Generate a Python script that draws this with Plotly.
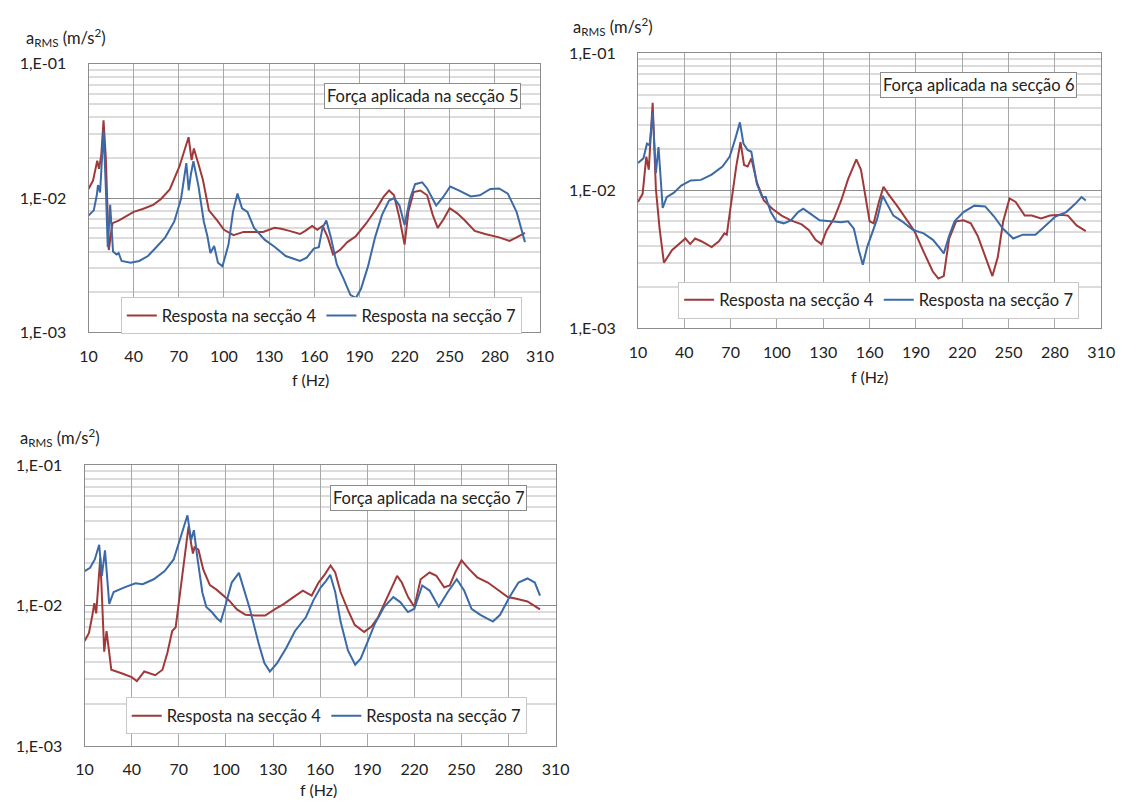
import plotly.graph_objects as go

# --- chart 1: força aplicada na secção 5 ---
f1_s4 = [10, 13, 15.8, 17, 18.5, 20, 21.5, 23.5, 25, 26, 30, 35, 40, 46, 53, 58, 64, 70.4, 73, 76.5,
         78.5, 80, 83, 86, 90, 95.6, 100, 106.4, 113, 119.5, 126, 133.6, 138, 143.5, 150.5, 154, 158.6,
         162, 165.5, 169, 172.5, 177, 182, 187.6, 194.6, 201.5, 206, 209.7, 213, 216.6, 220, 222.5,
         226, 230.5, 235, 238.7, 242, 245.7, 250, 255, 259.6, 266.6, 273.5, 282.8, 289.8, 294.4, 300]
a1_s4 = [0.0117, 0.0135, 0.019, 0.0165, 0.021, 0.038, 0.020, 0.0041, 0.0055, 0.0065, 0.0068, 0.0073,
         0.0079, 0.0083, 0.0089, 0.0098, 0.0116, 0.0172, 0.0215, 0.0284, 0.0192, 0.0234, 0.018, 0.0137,
         0.0081, 0.0068, 0.0058, 0.0053, 0.0056, 0.0056, 0.0056, 0.0060, 0.0059, 0.0057, 0.0054, 0.0057,
         0.0062, 0.0058, 0.0062, 0.0051, 0.0038, 0.0041, 0.0047, 0.0052, 0.0065, 0.0084, 0.0102, 0.0114,
         0.0105, 0.0071, 0.0045, 0.0079, 0.0111, 0.0114, 0.0105, 0.0075, 0.0060, 0.0069, 0.0084, 0.0077,
         0.0069, 0.0057, 0.0054, 0.0051, 0.0048, 0.0051, 0.0055]
f1_s7 = [10, 13.5, 15.5, 16.3, 17.7, 20, 21.5, 22.8, 24.4, 26.3, 28.6, 30, 32, 38, 43.7, 49.5, 55, 61,
         67, 71.5, 75, 76.6, 78, 79.7, 83, 86.6, 89, 91, 93.5, 96, 99, 103, 106, 109, 112, 115.6, 120,
         127, 134, 141, 150.5, 155, 159.7, 163, 165.5, 168, 171, 175, 179.5, 184, 187.6, 191, 195.7,
         200.4, 205, 209.7, 213, 216.6, 220, 223.6, 227, 231.7, 235, 241, 245.7, 250.3, 256, 264, 270,
         277, 282.8, 288.6, 294.4, 300]
a1_s7 = [0.0074, 0.0081, 0.0105, 0.0125, 0.011, 0.0319, 0.012, 0.0043, 0.0089, 0.0040, 0.0038, 0.0039,
         0.0034, 0.0033, 0.0034, 0.0037, 0.0043, 0.0051, 0.0067, 0.0099, 0.0182, 0.0114, 0.0150, 0.0188,
         0.0124, 0.0067, 0.0052, 0.0039, 0.0044, 0.0033, 0.0031, 0.0045, 0.0079, 0.0108, 0.0084, 0.0079,
         0.0060, 0.0049, 0.0043, 0.0037, 0.0034, 0.0036, 0.0042, 0.0043, 0.0060, 0.0068, 0.0051, 0.0032,
         0.0025, 0.0019, 0.0018, 0.0021, 0.0031, 0.0051, 0.0075, 0.0096, 0.0100, 0.0088, 0.0063, 0.0099,
         0.0127, 0.0131, 0.0118, 0.0088, 0.0102, 0.0122, 0.0114, 0.0103, 0.0105, 0.0117, 0.0118, 0.0108,
         0.0079, 0.0047]

# --- chart 2: força aplicada na secção 6 ---
f2_s4 = [10, 13, 15.4, 17, 19.5, 21.6, 24, 26.8, 32, 38, 40.7, 43.8, 47, 51, 57.7, 62.4, 66, 67.5, 70.6,
         73.6, 76.4, 78.7, 81, 83.4, 87, 91.5, 97, 103, 109, 116, 120.6, 125, 128.8, 132, 137, 141.6,
         146, 151.4, 154.4, 158, 160, 162.6, 166, 169, 172, 177.7, 183.5, 189, 195, 200.8, 204.5, 208,
         211.5, 216, 220.8, 225.5, 230, 234.8, 239.5, 243, 246.5, 250.6, 254.6, 260.4, 265, 271, 276.8,
         283.7, 288.4, 294, 300]
a2_s4 = [0.0083, 0.0095, 0.0177, 0.0142, 0.0435, 0.0103, 0.0053, 0.0030, 0.0037, 0.0042, 0.0045, 0.0041,
         0.0045, 0.0043, 0.0039, 0.0043, 0.0049, 0.0048, 0.0087, 0.0150, 0.0226, 0.0154, 0.0150, 0.0172,
         0.0115, 0.0085, 0.0074, 0.0066, 0.0061, 0.0057, 0.0052, 0.0044, 0.0041, 0.0051, 0.0063, 0.0085,
         0.0121, 0.0169, 0.0142, 0.0083, 0.0060, 0.0058, 0.0083, 0.0107, 0.0095, 0.0078, 0.0063, 0.0051,
         0.0036, 0.0026, 0.0023, 0.0024, 0.0045, 0.0060, 0.0061, 0.0058, 0.0047, 0.0033, 0.0024, 0.0033,
         0.0060, 0.0088, 0.0083, 0.0066, 0.0066, 0.0063, 0.0066, 0.0067, 0.0066, 0.0056, 0.0051]
f2_s7 = [10, 13.5, 15.8, 17.5, 19.5, 21.6, 23.3, 26, 28.6, 33.3, 38, 44.2, 50.8, 57.7, 64.7, 69.4, 73,
         76, 78.3, 81, 83.4, 87, 90.4, 92.7, 96, 99.7, 104.4, 109, 113.7, 117, 121.8, 127.6, 134.6,
         141.6, 146, 149.8, 153, 155.6, 158.4, 161.9, 165, 168.4, 171.5, 175.4, 181, 188, 195, 201,
         205.7, 208, 211.5, 215, 220.8, 227.8, 234.8, 240.6, 246.4, 253, 259.3, 267.4, 273.3, 280.3,
         287.3, 293, 297.2, 300]
a2_s7 = [0.0159, 0.0172, 0.0220, 0.0214, 0.0370, 0.0135, 0.0208, 0.0075, 0.0090, 0.0097, 0.0109, 0.0119,
         0.0120, 0.0131, 0.0150, 0.0177, 0.0239, 0.0314, 0.0220, 0.0198, 0.0192, 0.0112, 0.0090, 0.0090,
         0.0070, 0.0060, 0.0058, 0.0061, 0.0070, 0.0074, 0.0068, 0.0061, 0.0060, 0.0059, 0.0060, 0.0053,
         0.0037, 0.0029, 0.0039, 0.0051, 0.0063, 0.0092, 0.0080, 0.0066, 0.0060, 0.0052, 0.0049, 0.0044,
         0.0038, 0.0035, 0.0047, 0.0060, 0.0070, 0.0078, 0.0077, 0.0065, 0.0053, 0.0045, 0.0048, 0.0048,
         0.0055, 0.0065, 0.0070, 0.0080, 0.0090, 0.0085]

# --- chart 3: força aplicada na secção 7 ---
f3_s4 = [10, 12.8, 15, 16.2, 17.4, 20, 21, 22.5, 24, 27, 33.5, 40, 43.3, 48, 55, 59.6, 62.7, 65.8, 68,
         71, 74.2, 76.2, 78, 79, 80, 82.5, 85.6, 89.8, 94, 97, 102, 107, 112.5, 118.8, 125, 131, 137,
         143, 149, 154.6, 159, 163, 166.6, 169.6, 173, 177.7, 182, 188, 192.7, 197, 203, 209, 212, 216,
         220, 224, 229.7, 234, 239, 242.5, 246, 250, 255, 260, 266.8, 273.7, 279.5, 285, 292, 300]
a3_s4 = [0.0056, 0.0064, 0.0086, 0.0104, 0.0088, 0.0220, 0.0120, 0.0047, 0.0066, 0.0035, 0.0033, 0.0031,
         0.0029, 0.0034, 0.0032, 0.0035, 0.0046, 0.0066, 0.0070, 0.0126, 0.0227, 0.0367, 0.0270, 0.0235,
         0.0260, 0.0250, 0.0180, 0.0140, 0.0130, 0.0121, 0.0109, 0.0094, 0.0086, 0.0085, 0.0085, 0.0094,
         0.0103, 0.0115, 0.0128, 0.0118, 0.0146, 0.0167, 0.0193, 0.0172, 0.0125, 0.0093, 0.0073, 0.0065,
         0.0071, 0.0083, 0.0118, 0.0163, 0.0146, 0.0115, 0.0098, 0.0154, 0.0172, 0.0163, 0.0135, 0.0139,
         0.0172, 0.0210, 0.0181, 0.0159, 0.0146, 0.0128, 0.0115, 0.0112, 0.0107, 0.0094]
f3_s7 = [10, 13.5, 16.5, 19.3, 21, 23, 25.7, 28.5, 35.4, 42.4, 47, 54, 61, 66.7, 71.3, 75.5, 77.8, 79.6,
         81.7, 85, 87.5, 91, 94.4, 96.7, 100, 103.7, 108.3, 111.8, 115.2, 121, 124.5, 128, 132.6, 138.4,
         144, 151, 155.7, 160.4, 163.8, 166.4, 169.6, 173, 177.7, 182.3, 185.8, 190.4, 195, 200.8, 206.6,
         211, 215.9, 220, 225, 229.7, 235.5, 241.3, 247, 251.7, 256.4, 262, 270, 274.6, 280.6, 286.3,
         292, 296.7, 300]
a3_s7 = [0.0176, 0.0186, 0.0213, 0.0271, 0.0163, 0.0247, 0.0103, 0.0125, 0.0135, 0.0144, 0.0142, 0.0154,
         0.0176, 0.0213, 0.0310, 0.0439, 0.0293, 0.0344, 0.0224, 0.0124, 0.0098, 0.0090, 0.0081, 0.0077,
         0.0103, 0.0146, 0.0171, 0.0125, 0.0095, 0.0053, 0.0039, 0.0034, 0.0039, 0.0050, 0.0066, 0.0083,
         0.0109, 0.0135, 0.0150, 0.0166, 0.0125, 0.0077, 0.0048, 0.0038, 0.0042, 0.0056, 0.0075, 0.0098,
         0.0115, 0.0106, 0.0090, 0.0095, 0.0139, 0.0128, 0.0098, 0.0125, 0.0154, 0.0128, 0.0095, 0.0086,
         0.0077, 0.0086, 0.0115, 0.0146, 0.0156, 0.0146, 0.0118]

names = ["Resposta na secção 4", "Resposta na secção 7"]
titles = ["Força aplicada na secção 5", "Força aplicada na secção 6", "Força aplicada na secção 7"]
x_ticks = [10, 40, 70, 100, 130, 160, 190, 220, 250, 280, 310]
y_ticks = [0.001, 0.01, 0.1]
y_ticktext = ["1,E-03", "1,E-02", "1,E-01"]
y_minor = [k * 10.0 ** e for e in (-3, -2) for k in range(2, 10)]

# page body keeps its default 8px margin, so the figure is 16px smaller than the window
PAGE_W, PAGE_H, MARGIN = 1136, 812, 8
W, H = PAGE_W - 2 * MARGIN, PAGE_H - 2 * MARGIN
RED = "#A0393A"
BLUE = "#3C6AA6"
FONT = "Lato"
TXT = "#222222"


def px(x):
    return (x - MARGIN) / W


def py(y):
    return 1 - (y - MARGIN) / H


# plot areas in window pixels (left, right, top, bottom)
boxes = [(81, 542, 55, 330), (642, 1115, 44, 326), (77, 558, 466, 754)]
ylabel_pos = [(15, 28), (574, 17), (9, 438)]
xlabel_pos = [(308, 378), (878, 375), (316, 798)]
note_pos = [(321, 88), (889, 77), (328, 500)]      # left edge, vertical centre
legend_pos = [(114, 313), (683, 297), (119, 723)]  # left edge, vertical centre

series = [(f1_s4, a1_s4, f1_s7, a1_s7), (f2_s4, a2_s4, f2_s7, a2_s7), (f3_s4, a3_s4, f3_s7, a3_s7)]

fig = go.Figure()
annotations = []
for i, (fa, aa, fb, ab) in enumerate(series):
    sfx = "" if i == 0 else str(i + 1)
    lg = "legend" + sfx
    fig.add_trace(go.Scatter(x=fa, y=aa, mode="lines", name=names[0], line=dict(color=RED, width=2),
                             xaxis="x" + sfx, yaxis="y" + sfx, legend=lg))
    fig.add_trace(go.Scatter(x=fb, y=ab, mode="lines", name=names[1], line=dict(color=BLUE, width=2),
                             xaxis="x" + sfx, yaxis="y" + sfx, legend=lg))
    l, r, t, b = boxes[i]
    fig.update_layout({
        "xaxis" + sfx: dict(domain=[px(l), px(r)], anchor="y" + sfx, range=[10, 310], tickvals=x_ticks,
                           showgrid=True, gridcolor="#A8A8A8", gridwidth=1, zeroline=False,
                           showline=True, linecolor="#8C8C8C", linewidth=1, mirror=True,
                           ticks="", ticklabelstandoff=9,
                           tickfont=dict(family=FONT, size=16, color=TXT)),
        "yaxis" + sfx: dict(domain=[py(b), py(t)], anchor="x" + sfx, type="log", range=[-3, -1],
                           tickvals=y_ticks, ticktext=y_ticktext, showgrid=True, gridcolor="#8C8C8C",
                           zeroline=False, showline=True, linecolor="#8C8C8C", linewidth=1, mirror=True,
                           ticks="", ticklabelstandoff=18,
                           tickfont=dict(family=FONT, size=16, color=TXT),
                           minor=dict(tickvals=y_minor, showgrid=True, gridcolor="#DCDCDC", gridwidth=1.5,
                                      ticks="")),
        lg: dict(x=px(legend_pos[i][0]), y=py(legend_pos[i][1]), xanchor="left", yanchor="middle",
                 orientation="h", bgcolor="white", bordercolor="#C8C8C8", borderwidth=1,
                 font=dict(family=FONT, size=16.5, color=TXT), itemwidth=30, tracegroupgap=0),
    })
    annotations.append(dict(text=titles[i], x=px(note_pos[i][0]), y=py(note_pos[i][1]),
                            xref="paper", yref="paper", xanchor="left", yanchor="middle", showarrow=False,
                            bgcolor="white", bordercolor="#8C8C8C", borderwidth=1, borderpad=2,
                            font=dict(family=FONT, size=16.5, color=TXT)))
    annotations.append(dict(text="a<sub>RMS</sub> (m/s<sup>2</sup>)", x=px(ylabel_pos[i][0]),
                            y=py(ylabel_pos[i][1]), xref="paper", yref="paper", xanchor="left",
                            yanchor="middle", showarrow=False, font=dict(family=FONT, size=16.5, color=TXT)))
    annotations.append(dict(text="f (Hz)", x=px(xlabel_pos[i][0]), y=py(xlabel_pos[i][1]),
                            xref="paper", yref="paper", xanchor="center", yanchor="middle",
                            showarrow=False, font=dict(family=FONT, size=16, color=TXT)))

fig.update_layout(width=W, height=H, margin=dict(l=0, r=0, t=0, b=0), plot_bgcolor="white",
                  paper_bgcolor="white", annotations=annotations, showlegend=True)

fig.write_html("out.html", config={"displayModeBar": False})
